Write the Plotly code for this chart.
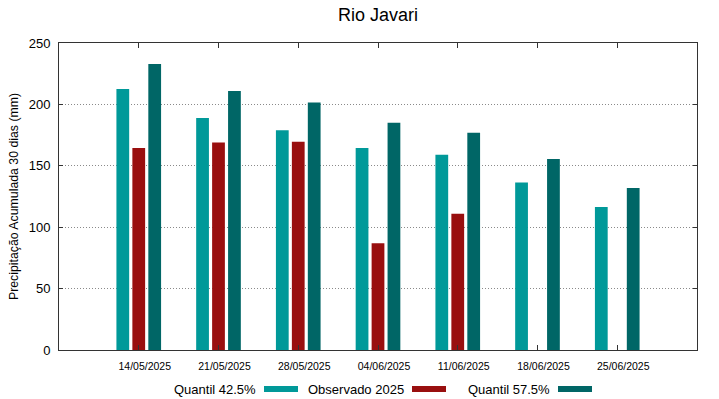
import plotly.graph_objects as go

dates = ["14/05/2025", "21/05/2025", "28/05/2025", "04/06/2025",
         "11/06/2025", "18/06/2025", "25/06/2025"]
q425 = [212.5, 189, 179, 164.5, 159, 136.5, 116.5]
obs2025 = [164.5, 169, 169.5, 87, 111, None, None]
q575 = [233, 211, 201.5, 185, 177, 155.5, 132]
series_names = ["Quantil 42.5%", "Observado 2025", "Quantil 57.5%"]
colors = ["#009999", "#990f0f", "#006666"]

W, H = 719, 399
L, R, T, B = 59, 22, 43, 49
pw, ph = W - L - R, H - T - B
FONT = "Liberation Sans, Arial, sans-serif"

x = list(range(len(dates)))
fig = go.Figure()
offsets = [-0.28, -0.08, 0.12]
for name, vals, col, off in zip(series_names, [q425, obs2025, q575], colors, offsets):
    fig.add_trace(go.Bar(x=x, y=vals, name=name, marker_color=col,
                         marker_line_width=0, width=0.16, offset=off,
                         showlegend=False, hoverinfo="y"))

# custom gnuplot-style legend: text followed by swatch
leg_text_right = [258, 406, 552]
leg_y = 389
for name, col, xr in zip(series_names, colors, leg_text_right):
    fig.add_annotation(x=(xr - L) / pw, y=(T + ph - leg_y) / ph, xref="paper", yref="paper",
                       text=name, showarrow=False, xanchor="right", yanchor="middle",
                       font=dict(family=FONT, size=13, color="#000000"))
    fig.add_shape(type="rect", xref="paper", yref="paper",
                  x0=(xr + 6 - L) / pw, x1=(xr + 40 - L) / pw,
                  y0=(T + ph - leg_y - 3) / ph, y1=(T + ph - leg_y + 3) / ph,
                  fillcolor=col, line_width=0)

fig.update_layout(
    width=W, height=H,
    margin=dict(l=L, r=R, t=T, b=B),
    paper_bgcolor="white", plot_bgcolor="white",
    barmode="overlay",
    font=dict(family=FONT, color="#000000"),
    title=dict(text="Rio Javari", x=(378) / W, xanchor="center",
               y=1 - 15 / H, yanchor="middle", yref="container",
               font=dict(family=FONT, size=18, color="#000000")),
)
fig.update_xaxes(range=[-1, 7], tickvals=x, ticktext=dates,
                 tickfont=dict(size=10.5, family=FONT, color="#000000"),
                 ticks="inside", ticklen=5, tickcolor="#333333",
                 showline=True, linecolor="#333333", linewidth=1, mirror="ticks",
                 showgrid=False, zeroline=False, ticklabelstandoff=6,
                 ticklabelshift=6)
fig.update_yaxes(range=[0, 250], tickvals=[0, 50, 100, 150, 200, 250],
                 tickfont=dict(size=13, family=FONT, color="#000000"),
                 ticks="inside", ticklen=4, tickcolor="#333333",
                 showline=True, linecolor="#333333", linewidth=1, mirror="ticks",
                 showgrid=True, gridcolor="#8a8a8a", griddash="1px,2px", gridwidth=1,
                 zeroline=False, ticklabelstandoff=5,
                 title=dict(text="Precipitação Acumulada 30 dias (mm)",
                            font=dict(size=12.3, family=FONT, color="#000000"),
                            standoff=7))

fig.write_html("out.html", config={"displayModeBar": False},
               post_script="document.body.style.margin='0';")
